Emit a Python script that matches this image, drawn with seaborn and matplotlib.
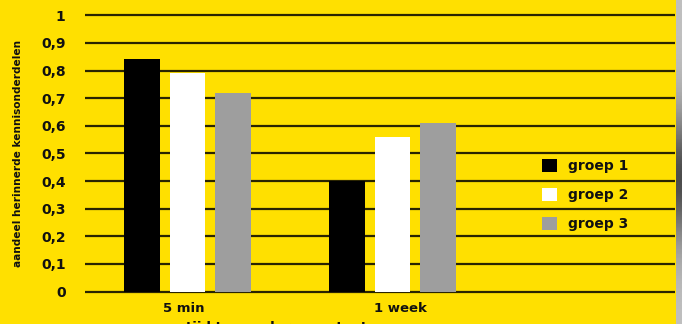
import matplotlib
matplotlib.use("Agg")
import matplotlib.pyplot as plt
import numpy as np
import pandas as pd
import seaborn as sns
from matplotlib.patches import Patch

# Data
momenten = ["5 min", "1 week"]
groepen = ["groep 1", "groep 2", "groep 3"]
groep1 = [0.84, 0.40]
groep2 = [0.79, 0.56]
groep3 = [0.72, 0.61]
y_ticks = [0, 0.1, 0.2, 0.3, 0.4, 0.5, 0.6, 0.7, 0.8, 0.9, 1]
y_ticklabels = ["0", "0,1", "0,2", "0,3", "0,4", "0,5", "0,6", "0,7", "0,8", "0,9", "1"]

df = pd.DataFrame({
    "moment": momenten * 3,
    "groep": [g for g in groepen for _ in momenten],
    "aandeel": groep1 + groep2 + groep3,
})

YELLOW = "#FFE000"
INK = "#111111"
kleuren = {"groep 1": "#000000", "groep 2": "#FFFFFF", "groep 3": "#9E9E9E"}

sns.set_theme(style="white")
plt.rcParams["font.family"] = ["DejaVu Sans"]

W, H = 682, 324
fig = plt.figure(figsize=(W / 100, H / 100), dpi=100, facecolor=YELLOW)

# plot area in pixels
left_px, right_px = 85, 675
ylo, yhi = -0.012, 1.012
px_per_unit = 276.2
zero_px = 291.5
bottom_px = zero_px - ylo * px_per_unit
top_px = zero_px - yhi * px_per_unit
ax = fig.add_axes([left_px / W, (H - bottom_px) / H,
                   (right_px - left_px) / W, (bottom_px - top_px) / H])
ax.set_facecolor(YELLOW)

sns.barplot(data=df, x="moment", y="aandeel", hue="groep", hue_order=groepen,
            order=momenten, palette=kleuren, width=0.666, gap=0.23,
            saturation=1, edgecolor="none", linewidth=0, legend=False, ax=ax,
            zorder=3)

ax.set_xlim(-0.5, 2.378)
ax.set_ylim(ylo, yhi)
ax.set_yticks(y_ticks)
ax.set_yticklabels(y_ticklabels, fontsize=10, fontweight="bold", color=INK)
ax.tick_params(axis="y", length=0, pad=14)
ax.set_xticks([-0.017, 1.04])
ax.set_xticklabels(momenten, fontsize=9.5, fontweight="bold", color=INK)
ax.tick_params(axis="x", length=0, pad=5)

for y in y_ticks:
    ax.axhline(y, color="#2a2400", lw=1.6, zorder=1)

for s in ax.spines.values():
    s.set_visible(False)
ax.grid(False)

ax.set_ylabel("aandeel herinnerde kennisonderdelen", fontsize=7.6,
              fontweight="bold", color=INK, labelpad=13)
ax.set_xlabel("")

# axis title below the categories, running off the lower edge
fig.text(290 / W, (H - 321.5) / H, "tijd tussen leren en toetsen", ha="center",
         va="top", fontsize=9.5, fontweight="bold", color=INK)

handles = [Patch(facecolor=kleuren[g], edgecolor="none") for g in groepen]
leg = fig.legend(handles, groepen, loc="center left",
                 bbox_to_anchor=(535 / W, (H - 195) / H), frameon=False,
                 handlelength=1.1, handleheight=1.1, handletextpad=0.8,
                 labelspacing=1.05, borderpad=0,
                 prop={"size": 10, "weight": "bold"})
for t in leg.get_texts():
    t.set_color(INK)

# shaded page edge on the right
edge = fig.add_axes([676 / W, 0, 6 / W, 1])
grad = np.linspace(0, 1, 200)
shade = 0.75 - 0.45 * np.exp(-((grad - 0.55) / 0.2) ** 2)
edge.imshow(shade[:, None], cmap="gray", vmin=0, vmax=1, aspect="auto",
            extent=(0, 1, 0, 1))
edge.axis("off")

fig.savefig("out.png", dpi=100, facecolor=YELLOW)
